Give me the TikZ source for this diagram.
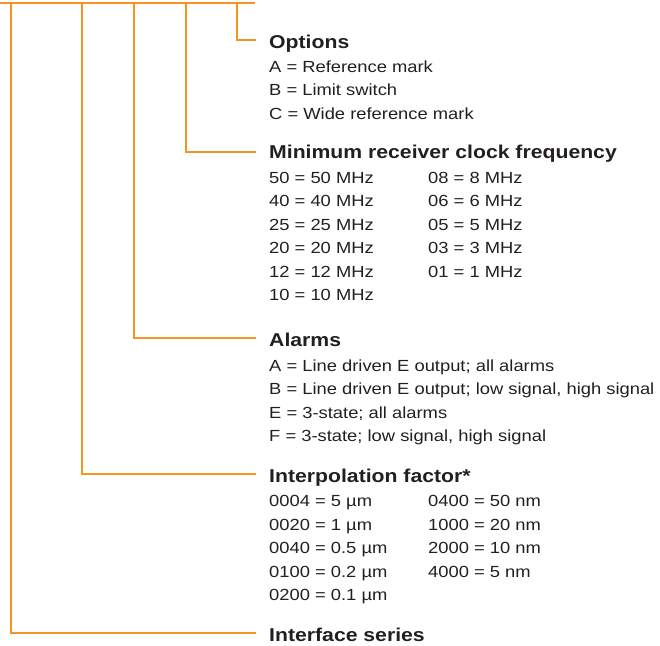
\documentclass[tikz,border=0pt]{standalone}
\usepackage{fontspec}
\setmainfont{Liberation Sans}[FakeStretch=1.14]
\definecolor{org}{HTML}{F7941D}
\definecolor{txt}{HTML}{231F20}
\begin{document}
\begin{tikzpicture}[x=1pt,y=-1pt,
  line/.style={draw=org,line width=2.5pt},
  ttl/.style={anchor=base west,inner sep=0pt,font=\fontsize{18.6}{22}\selectfont\bfseries,text=txt},
  itm/.style={anchor=base west,inner sep=0pt,font=\fontsize{16.1}{20}\selectfont,text=txt}]
\useasboundingbox (0,0) rectangle (660,645);
% tree lines
\coordinate (t0) at (0,3);
\coordinate (tE) at (255,3);
\coordinate (v1) at (11,3);
\coordinate (v2) at (82,3);
\coordinate (v3) at (134,3);
\coordinate (v4) at (186,3);
\coordinate (v5) at (237,3);
\coordinate (e1) at (256,633);
\coordinate (e2) at (256,474);
\coordinate (e3) at (256,338);
\coordinate (e4) at (256,152);
\coordinate (e5) at (256,40);
\draw[line] (t0) -- (tE);
\draw[line] (v1) |- (e1);
\draw[line] (v2) |- (e2);
\draw[line] (v3) |- (e3);
\draw[line] (v4) |- (e4);
\draw[line] (v5) |- (e5);
% Options
\node[ttl] (opt) at (269,48) {Options};
\node[itm] (optA) at (269,72) {A = Reference mark};
\node[itm] (optB) at (269,95.5) {B = Limit switch};
\node[itm] (optC) at (269,119) {C = Wide reference mark};
% Minimum receiver clock frequency
\node[ttl] (clk) at (269,158) {Minimum receiver clock frequency};
\node[itm] (c50) at (269,183) {50 = 50 MHz};
\node[itm] (c40) at (269,206.5) {40 = 40 MHz};
\node[itm] (c25) at (269,230) {25 = 25 MHz};
\node[itm] (c20) at (269,253.5) {20 = 20 MHz};
\node[itm] (c12) at (269,277) {12 = 12 MHz};
\node[itm] (c10) at (269,300.5) {10 = 10 MHz};
\node[itm] (c08) at (428,183) {08 = 8 MHz};
\node[itm] (c06) at (428,206.5) {06 = 6 MHz};
\node[itm] (c05) at (428,230) {05 = 5 MHz};
\node[itm] (c03) at (428,253.5) {03 = 3 MHz};
\node[itm] (c01) at (428,277) {01 = 1 MHz};
% Alarms
\node[ttl] (alm) at (269,346) {Alarms};
\node[itm] (almA) at (269,371) {A = Line driven E output; all alarms};
\node[itm] (almB) at (269,394.5) {B = Line driven E output; low signal, high signal};
\node[itm] (almE) at (269,418) {E = 3-state; all alarms};
\node[itm] (almF) at (269,441.5) {F = 3-state; low signal, high signal};
% Interpolation factor
\node[ttl] (ipf) at (269,482) {Interpolation factor*};
\node[itm] (i1) at (269,506.5) {0004 = 5 µm};
\node[itm] (i2) at (269,530) {0020 = 1 µm};
\node[itm] (i3) at (269,553.5) {0040 = 0.5 µm};
\node[itm] (i4) at (269,577) {0100 = 0.2 µm};
\node[itm] (i5) at (269,600.5) {0200 = 0.1 µm};
\node[itm] (i6) at (428,506.5) {0400 = 50 nm};
\node[itm] (i7) at (428,530) {1000 = 20 nm};
\node[itm] (i8) at (428,553.5) {2000 = 10 nm};
\node[itm] (i9) at (428,577) {4000 = 5 nm};
% Interface series
\node[ttl] (ifs) at (269,641) {Interface series};
\end{tikzpicture}
\end{document}
